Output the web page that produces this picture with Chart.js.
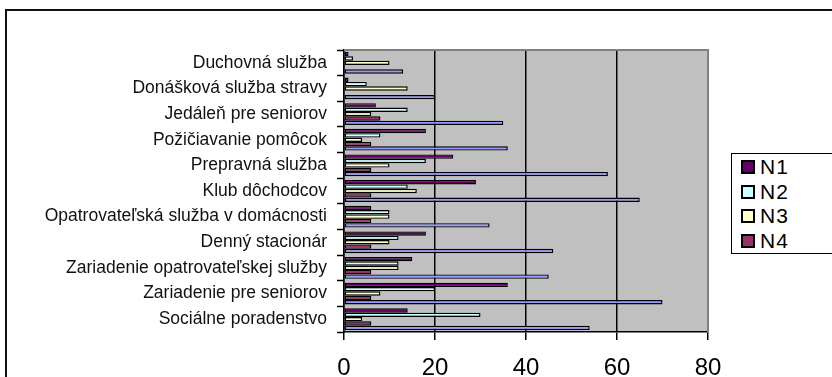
<!DOCTYPE html>
<html>
<head>
<meta charset="utf-8">
<script src="https://cdn.jsdelivr.net/npm/chart.js@4/dist/chart.umd.min.js"></script>
<style>
  html, body { margin: 0; padding: 0; background: #fff; overflow: hidden; }
  #wrap { position: relative; width: 832px; height: 377px; overflow: hidden; }
  #frame { position: absolute; left: 5px; top: 9px; width: 900px; height: 500px;
           border: 2px solid #111; box-sizing: border-box; }
  #chart { position: absolute; left: 0; top: 0; }
  #legend { position: absolute; left: 731px; top: 153px; width: 120px; height: 101px;
            border: 1px solid #000; background: #fff; box-sizing: border-box;
            font-family: "Liberation Sans", Arial, sans-serif; }
  .item { position: absolute; left: 9px; height: 24px; display: flex; align-items: center;
          font-size: 21px; letter-spacing: 1px; color: #000; }
  .sw { width: 10px; height: 10px; border: 2px solid #000; margin-right: 5px; }
</style>
</head>
<body>
<div id="wrap">
  <div id="frame"></div>
  <canvas id="chart" width="832" height="377"></canvas>
  <div id="legend"></div>
</div>
<script>
// Services, listed top to bottom
const categories = [
  "Duchovná služba",
  "Donášková služba stravy",
  "Jedáleň pre seniorov",
  "Požičiavanie pomôcok",
  "Prepravná služba",
  "Klub dôchodcov",
  "Opatrovateľská služba v domácnosti",
  "Denný stacionár",
  "Zariadenie opatrovateľskej služby",
  "Zariadenie pre seniorov",
  "Sociálne poradenstvo"
];

const seriesNames = ["N1", "N2", "N3", "N4"];
const n1 = [1, 1, 7, 18, 24, 29, 6, 18, 15, 36, 14];
const n2 = [2, 5, 14, 8, 18, 14, 10, 12, 12, 20, 30];
const n3 = [10, 14, 6, 4, 10, 16, 10, 10, 12, 8, 4];
const n4 = [0, 0, 8, 6, 6, 6, 6, 6, 6, 6, 6];
// overall count per service (no legend entry)
const spolu = [13, 20, 35, 36, 58, 65, 32, 46, 45, 70, 54];

const xTicks = [0, 20, 40, 60, 80];

const seriesColors = ["#660066", "#CCFFFF", "#FFFFCC", "#993366"];
const totalColor = "#9999FF";

const FONT = '"Liberation Sans", Arial, sans-serif';
Chart.defaults.font.family = FONT;

const seriesValues = [n1, n2, n3, n4];
const datasets = seriesNames.map((name, i) => ({
  label: name,
  data: seriesValues[i],
  backgroundColor: seriesColors[i]
}));
datasets.push({ label: "Spolu", data: spolu, backgroundColor: totalColor });

// grey plot area with grey top/right edges
const plotArea = {
  id: "plotArea",
  beforeDraw(chart) {
    const { ctx, chartArea: a } = chart;
    ctx.save();
    ctx.fillStyle = "#C0C0C0";
    ctx.fillRect(a.left, a.top, a.right - a.left, a.bottom - a.top);
    ctx.restore();
  },
  afterDraw(chart) {
    const { ctx, chartArea: a } = chart;
    ctx.save();
    ctx.strokeStyle = "#808080";
    ctx.lineWidth = 2;
    ctx.beginPath();
    ctx.moveTo(a.left, a.top);
    ctx.lineTo(a.right, a.top);
    ctx.lineTo(a.right, a.bottom);
    ctx.stroke();
    ctx.restore();
  }
};

new Chart(document.getElementById("chart"), {
  type: "bar",
  data: { labels: categories, datasets },
  options: {
    indexAxis: "y",
    responsive: false,
    animation: false,
    layout: { padding: { top: 50, right: 124, left: 0, bottom: 0 } },
    plugins: { legend: { display: false }, tooltip: { enabled: false } },
    datasets: {
      bar: {
        categoryPercentage: 0.85,
        barPercentage: 1,
        borderWidth: 1.4,
        borderColor: "#000",
        borderSkipped: false
      }
    },
    scales: {
      x: {
        min: xTicks[0],
        max: xTicks[xTicks.length - 1],
        afterBuildTicks(scale) { scale.ticks = xTicks.map(v => ({ value: v })); },
        ticks: { color: "#000", font: { size: 24 }, padding: 14 },
        grid: {
          color: c => (c.tick && c.tick.value === xTicks[xTicks.length - 1]) ? "#808080" : "#000",
          lineWidth: 1.5,
          tickLength: 8,
          tickColor: "#000",
          tickWidth: 1.5
        },
        border: { color: "#000", width: 1.5 },
        afterFit(scale) { scale.height = 45; }
      },
      y: {
        ticks: { color: "#111", font: { size: 17.5 }, padding: 10, autoSkip: false },
        grid: { drawOnChartArea: false, tickLength: 7, tickColor: "#000", tickWidth: 1.5 },
        border: { color: "#000", width: 1.5 },
        afterFit(scale) { scale.width = 344; }
      }
    }
  },
  plugins: [plotArea]
});

// legend for the four groups
const legend = document.getElementById("legend");
seriesNames.forEach((name, i) => {
  const item = document.createElement("div");
  item.className = "item";
  item.style.top = (1 + i * 24.7) + "px";
  const sw = document.createElement("span");
  sw.className = "sw";
  sw.style.background = seriesColors[i];
  const tx = document.createElement("span");
  tx.textContent = name;
  item.appendChild(sw);
  item.appendChild(tx);
  legend.appendChild(item);
});
</script>
</body>
</html>
